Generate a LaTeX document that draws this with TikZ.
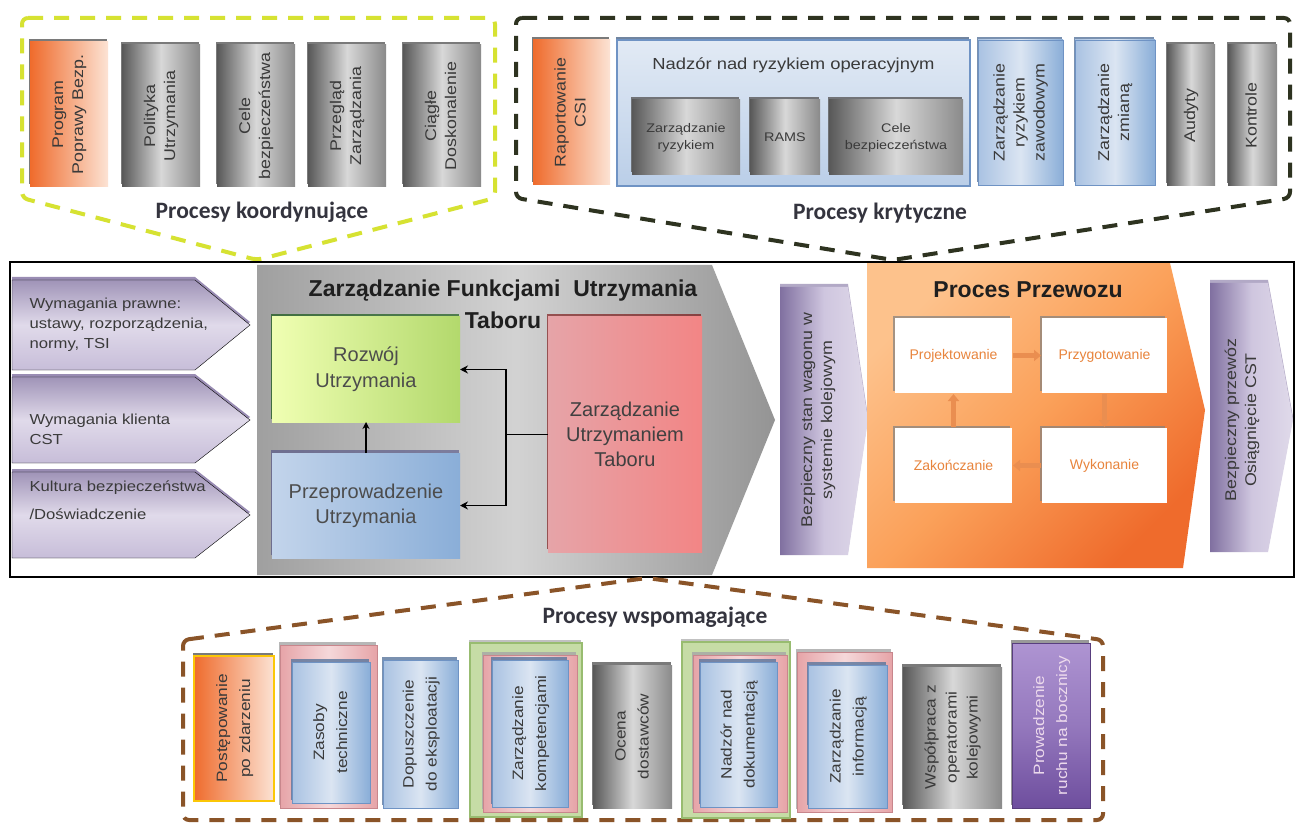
\documentclass[tikz,border=0pt]{standalone}
\usepackage{fontspec}
\setmainfont{Liberation Sans}
\newfontfamily\strfont[FakeStretch=1.15]{Liberation Sans}
\newfontfamily\calfont{Carlito}
\usetikzlibrary{shadows,arrows.meta}
\definecolor{txt}{HTML}{3A3A3A}
\definecolor{gryA}{HTML}{585858}
\definecolor{gryB}{HTML}{D8D8D8}
\definecolor{gryC}{HTML}{8A8A8A}
\definecolor{orgA}{HTML}{EF6B2C}
\definecolor{orgB}{HTML}{FCE3D4}
\definecolor{bluA}{HTML}{A9C2E2}
\definecolor{bluB}{HTML}{DBE5F2}
\definecolor{bluC}{HTML}{8AAED8}
\definecolor{bluD}{HTML}{6F93C4}
\definecolor{purA}{HTML}{8070A0}
\definecolor{purB}{HTML}{E0DAEA}
\definecolor{purC}{HTML}{CFC6DF}
\definecolor{yelD}{HTML}{D6E232}
\definecolor{blkD}{HTML}{2E3320}
\definecolor{brnD}{HTML}{8A5428}
\definecolor{procarrow}{HTML}{EA8E50}
\definecolor{proctxt}{HTML}{E8843C}
\definecolor{grptxt}{HTML}{34343E}
\definecolor{redA}{HTML}{E6A4A8}
\definecolor{redB}{HTML}{F5D8DA}
\definecolor{redD}{HTML}{C8868C}
\definecolor{grnF}{HTML}{C6DCA6}
\definecolor{grnD}{HTML}{98BC70}
\definecolor{vioT}{HTML}{AE94D2}
\definecolor{vioB}{HTML}{6E4E9E}
\newcommand\vt[1]{\rotatebox{90}{\strfont\fontsize{15.5}{20}\selectfont\begin{tabular}{@{}c@{}}#1\end{tabular}}}
\newcommand\vtb[1]{\rotatebox{90}{\strfont\fontsize{15}{23}\selectfont\begin{tabular}{@{}c@{}}#1\end{tabular}}}
\begin{document}
\begin{tikzpicture}[x=1pt,y=-1pt,
  shd/.style={drop shadow={shadow xshift=-1.5pt,shadow yshift=3pt,fill=#1,opacity=.8}},
  shd/.default=black!65,
  bx/.style={inner sep=0pt, outer sep=0pt, text=txt},
  grayb/.style={bx, shd, left color=gryA, right color=gryC, middle color=gryB},
  orangeb/.style={bx, shd, left color=orgA, right color=orgB},
  blueb/.style={bx, shd=bluD!80!black, left color=bluA, right color=bluC, middle color=bluB, draw=bluD, line width=0.8pt},
  redfr/.style={bx, shd=black!35, left color=redA, right color=redA, middle color=redB, draw=redD, line width=1pt},
  greenfr/.style={bx, shd=black!30, fill=grnF, draw=grnD, line width=1.2pt},
  procbox/.style={bx, fill=white, drop shadow={shadow xshift=-2pt,shadow yshift=2pt,fill=black!50,opacity=.7}, minimum width=117, minimum height=75, text=proctxt, font=\fontsize{14}{16}\selectfont},
  parr/.style={draw=procarrow, line width=4.5pt, -{Triangle[length=7pt,width=11pt]}, shorten <=1pt, shorten >=1pt},
  conn/.style={draw=black, line width=1.6pt},
  dashbox/.style={line width=4pt, dash pattern=on 15pt off 11pt, line join=round},
  grp/.style={font=\calfont\bfseries\fontsize{23.5}{28}\selectfont, text=grptxt},
  lefttxt/.style={anchor=west, align=left, text=txt, font=\strfont\fontsize{14.5}{20}\selectfont}
]
\useasboundingbox (0,0) rectangle (1301,826);
\fill[white] (0,0) rectangle (1301,826);

% ===== top-left: coordinating processes =====
\draw[dashbox, draw=yelD, rounded corners=6pt] (22,18) -- (495,18) -- (495,198) -- (257,260) -- (22,198) -- cycle;
\node[orangeb, minimum width=78, minimum height=145] (p1) at (69,114.5) {\vt{Program\\Poprawy Bezp.}};
\node[grayb, minimum width=78, minimum height=142] (p2) at (161,116) {\vt{Polityka\\Utrzymania}};
\node[grayb, minimum width=78, minimum height=142] (p3) at (256,116) {\vt{Cele\\bezpieczeństwa}};
\node[grayb, minimum width=78, minimum height=142] (p4) at (347,116) {\vt{Przegląd\\Zarządzania}};
\node[grayb, minimum width=78, minimum height=142] (p5) at (442,116) {\vt{Ciągłe\\Doskonalenie}};
\node[grp] (g1) at (262,212) {Procesy koordynujące};

% ===== top-right: critical processes =====
\draw[dashbox, draw=blkD, rounded corners=6pt] (516,18) -- (1290,18) -- (1290,198) -- (893,260) -- (516,198) -- cycle;
\node[orangeb, minimum width=77, minimum height=145] (r1) at (571.5,112.5) {\vt{Raportowanie\\CSI}};
\node[bx, shd=bluD!70!black, top color=bluB!80!white, bottom color=bluA!80!white, draw=bluD, line width=2pt, minimum width=353, minimum height=146] (nad) at (793.5,113) {};
\node[text=txt, font=\strfont\fontsize{16}{20}\selectfont] (nadt) at (793.5,65) {Nadzór nad ryzykiem operacyjnym};
\node[grayb, minimum width=108, minimum height=75, font=\strfont\fontsize{12.5}{17}\selectfont, align=center] (zr) at (686,137.5) {Zarządzanie\\ryzykiem};
\node[grayb, minimum width=70, minimum height=75, font=\strfont\fontsize{12.5}{17}\selectfont] (rams) at (785,137.5) {RAMS};
\node[grayb, minimum width=134, minimum height=75, font=\strfont\fontsize{12.5}{17}\selectfont, align=center] (cele) at (896,137.5) {Cele\\bezpieczeństwa};
\node[blueb, minimum width=85, minimum height=145] (zz) at (1020.5,112.5) {\vt{Zarządzanie\\ryzykiem\\zawodowym}};
\node[blueb, minimum width=80, minimum height=145] (zm) at (1115,112.5) {\vt{Zarządzanie\\zmianą}};
\node[grayb, minimum width=48, minimum height=141] (aud) at (1191,115.5) {\vt{Audyty}};
\node[grayb, minimum width=49, minimum height=141] (kon) at (1252.5,115.5) {\vt{Kontrole}};
\node[grp] (g2) at (880,213) {Procesy krytyczne};

% ===== middle band =====
% left input chevrons
\draw[drop shadow={shadow xshift=0pt,shadow yshift=3pt,fill=purA,opacity=.8}, top color=purA!75!white, bottom color=purC!90!purA, middle color=purB]
  (12,280) -- (195,280) -- (250,325) -- (195,370) -- (12,370) -- cycle;
\draw[drop shadow={shadow xshift=0pt,shadow yshift=3pt,fill=purA,opacity=.8}, top color=purA!75!white, bottom color=purC!90!purA, middle color=purB]
  (12,377) -- (195,377) -- (250,420) -- (195,463) -- (12,463) -- cycle;
\draw[drop shadow={shadow xshift=0pt,shadow yshift=3pt,fill=purA,opacity=.8}, top color=purA!75!white, bottom color=purC!90!purA, middle color=purB]
  (12,472) -- (195,472) -- (250,515) -- (195,558) -- (12,558) -- cycle;
\node[lefttxt] (a1) at (26,325) {Wymagania prawne:\\ustawy, rozporządzenia,\\normy, TSI};
\node[lefttxt] (a2) at (26,429) {Wymagania klienta\\CST};
\node[lefttxt, font=\strfont\fontsize{14.5}{28}\selectfont] (a3) at (26,500) {Kultura bezpieczeństwa\\/Doświadczenie};

% gray main chevron
\path[left color=gray!75, right color=gray!95!black!80, middle color=gray!35]
  (257,265) -- (712,265) -- (775,420) -- (712,575) -- (257,575) -- cycle;
\node[font=\bfseries\fontsize{23}{32}\selectfont, align=center, text=black!88] (ttl) at (503,304) {Zarządzanie Funkcjami\ \ Utrzymania\\Taboru};
\node[bx, drop shadow={shadow xshift=-1pt,shadow yshift=3pt,fill=green!30!black,opacity=.6}, left color=green!20!yellow!30!white, middle color=green!8!white, right color=green!35!yellow!50!white!85!black, minimum width=188, minimum height=105, align=center, font=\fontsize{20}{26}\selectfont, text=black!70] (rozw) at (366,369.5) {Rozwój\\Utrzymania};
\node[bx, drop shadow={shadow xshift=-1pt,shadow yshift=3pt,fill=blue!30!black!70,opacity=.6}, left color=bluA!70!white, middle color=bluB, right color=bluC, minimum width=188, minimum height=105, align=center, font=\fontsize{20}{25}\selectfont, text=black!70] (prze) at (366,505.5) {Przeprowadzenie\\Utrzymania};
\node[bx, drop shadow={shadow xshift=-1pt,shadow yshift=3pt,fill=red!45!black,opacity=.6}, left color=redA, middle color=redB, right color=red!45!white!95!black, minimum width=154, minimum height=235, align=center, font=\fontsize{20}{25}\selectfont, text=black!75] (zut) at (625,434.5) {Zarządzanie\\Utrzymaniem\\Taboru};
\coordinate (j) at (506,434.5);
\draw[conn, -{Stealth[length=7pt,width=7pt]}] (prze.north) -- (rozw.south);
\draw[conn] (zut.west) -- (j);
\draw[conn, -{Stealth[length=8pt,width=8pt]}] (j) |- (rozw.east);
\draw[conn, -{Stealth[length=8pt,width=8pt]}] (j) |- (prze.east);

% purple chevron: safe wagon state
\path[drop shadow={shadow xshift=0pt,shadow yshift=3pt,fill=purA,opacity=.6}, left color=purA, right color=purB, middle color=purC]
  (780,287) -- (848,287) -- (868,420) -- (848,555) -- (780,555) -- cycle;
\node[bx] (bsw) at (818,420) {\vt{Bezpieczny stan wagonu w\\systemie kolejowym}};

% orange transport process chevron
\path[top color=orgB!60!orange!90!white, bottom color=orgA, middle color=orange!60!orgA!70!white, shading angle=45]
  (867,263) -- (1170,263) -- (1205,410) -- (1183,568) -- (867,568) -- cycle;
\node[font=\bfseries\fontsize{23}{28}\selectfont, text=black!88] (ppt) at (1028,290) {Proces Przewozu};
\node[procbox] (proj) at (953.5,355.5) {Projektowanie};
\node[procbox, minimum width=125] (przy) at (1104.5,355.5) {Przygotowanie};
\node[procbox] (zak) at (953.5,465.5) {Zakończanie};
\node[procbox, minimum width=125] (wyk) at (1104.5,465.5) {Wykonanie};
\draw[parr] (proj.east) -- (przy.west);
\draw[parr] (przy.south) -- (wyk.north);
\draw[parr] (wyk.west) -- (zak.east);
\draw[parr] (zak.north) -- (proj.south);

% purple chevron: safe transport
\path[drop shadow={shadow xshift=0pt,shadow yshift=3pt,fill=purA,opacity=.6}, left color=purA, right color=purB, middle color=purC]
  (1210,283) -- (1268,283) -- (1293,420) -- (1268,552) -- (1210,552) -- cycle;
\node[bx] (bpc) at (1242,420) {\vt{Bezpieczny przewóz\\Osiągnięcie CST}};

% main frame
\draw[line width=2pt] (10,262) rectangle (1294,577);

% ===== bottom: supporting processes =====
\draw[dashbox, draw=brnD, rounded corners=6pt] (183,640) -- (647,578) -- (1103,640) -- (1103,820) -- (183,820) -- cycle;
\node[grp] (g3) at (655,617) {Procesy wspomagające};
\node[orangeb, draw=yellow!60!orange, line width=2.5pt, minimum width=80, minimum height=145] (b1) at (234,728.5) {\vtb{Postępowanie\\po zdarzeniu}};
\node[redfr, minimum width=97, minimum height=163] (b2o) at (328.5,726.5) {};
\node[blueb, minimum width=78, minimum height=141] (b2) at (331,732.5) {\vtb{Zasoby\\techniczne}};
\node[blueb, minimum width=75, minimum height=148] (b3) at (420.5,734) {\vtb{Dopuszczenie\\do eksploatacji}};
\node[greenfr, minimum width=112, minimum height=174] (b4g) at (526,730) {};
\node[redfr, minimum width=94, minimum height=157] (b4r) at (530,733.5) {};
\node[blueb, minimum width=76, minimum height=147] (b4) at (530,733.5) {\vtb{Zarządzanie\\kompetencjami}};
\node[grayb, minimum width=79, minimum height=143] (b5) at (632.5,736.5) {\vtb{Ocena\\dostawców}};
\node[greenfr, minimum width=108, minimum height=176] (b6g) at (736,730) {};
\node[redfr, minimum width=94, minimum height=157] (b6r) at (740,733.5) {};
\node[blueb, minimum width=77, minimum height=145] (b6) at (738.5,734.5) {\vtb{Nadzór nad\\dokumentacją}};
\node[redfr, minimum width=95, minimum height=160] (b7r) at (844.5,732) {};
\node[blueb, minimum width=79, minimum height=143] (b7) at (847.5,736.5) {\vtb{Zarządzanie\\informacją}};
\node[grayb, minimum width=99, minimum height=141] (b8) at (952.5,737.5) {\rotatebox{90}{\strfont\fontsize{15}{21}\selectfont\begin{tabular}{@{}c@{}}Współpraca z\\operatorami\\kolejowymi\end{tabular}}};
\node[bx, shd=black!50, top color=vioT, bottom color=vioB, middle color=vioT!60!vioB, draw=vioB!80!black, line width=0.8pt, minimum width=78, minimum height=165, text=white!85!violet] (b9) at (1051,725.5) {\vtb{Prowadzenie\\ruchu na bocznicy}};
\end{tikzpicture}
\end{document}
